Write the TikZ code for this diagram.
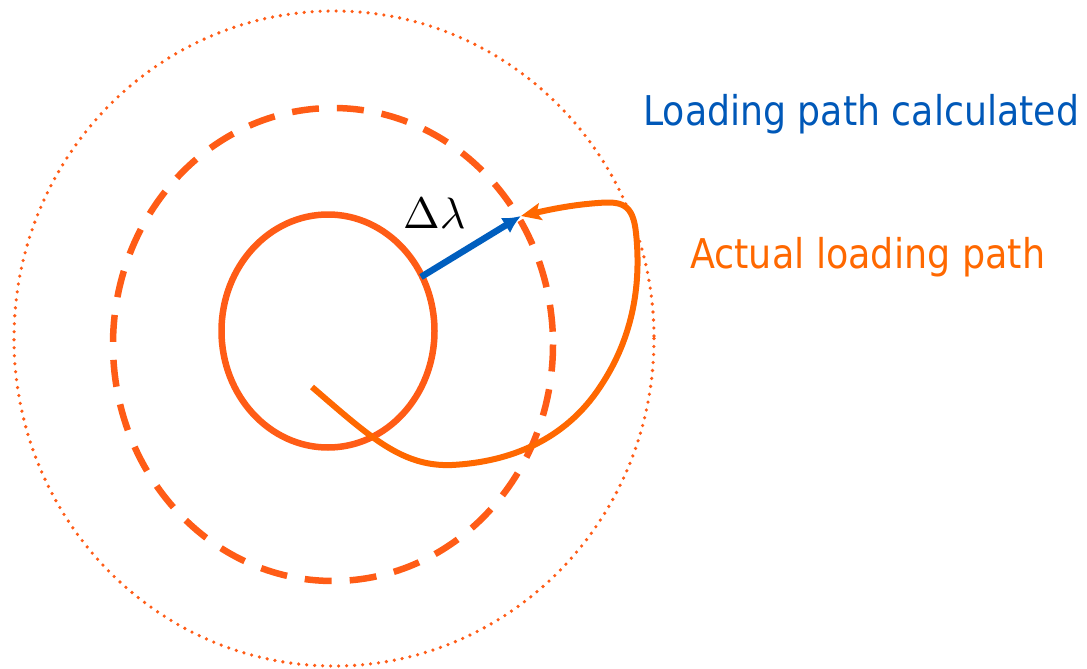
\documentclass[tikz,border=0pt]{standalone}
\usepackage{fontspec}
\newfontfamily\labelfont{DejaVu Sans}
\usetikzlibrary{arrows.meta}
\definecolor{circorange}{RGB}{255,92,22}
\definecolor{pathorange}{RGB}{255,104,0}
\definecolor{arrowblue}{RGB}{0,94,190}
\definecolor{textblue}{RGB}{0,88,184}
\tikzset{
  ring/.style={draw=circorange, line width=6.5pt},
  dashring/.style={draw=circorange, line width=6.5pt, dash pattern=on 27pt off 18pt},
  dotring/.style={draw=circorange, line width=3.6pt, line cap=round, dash pattern=on 0pt off 8pt},
  actualpath/.style={draw=pathorange, line width=6pt, -{Stealth[length=20pt,width=17pt,inset=4pt]}},
  deltaarrow/.style={draw=arrowblue, line width=6.5pt, -{Latex[length=18pt,width=18pt]}},
  lbl/.style={inner sep=0pt, anchor=base west},
}
\begin{document}
\begin{tikzpicture}[x=1pt,y=-1pt]
\useasboundingbox (0,0) rectangle (1087,669);
% circles
\draw[dotring] (334,338.5) ellipse [x radius=320, y radius=327.5];
\draw[dashring] (333,344.5) ellipse [x radius=220, y radius=236.5];
\draw[ring] (328,331) ellipse [x radius=106.5, y radius=116.5];
% key points
\coordinate (dlstart) at (421,277);
\coordinate (dlend) at (521,216);
\coordinate (pstart) at (312,387);
% actual loading path
\draw[actualpath] (pstart) .. controls (370,437) and (402,467) .. (452,465)
  .. controls (510,462) and (565,440) .. (600,387)
  .. controls (635,335) and (641,280) .. (636,233)
  .. controls (633,204) and (622,201) .. (598,203)
  .. controls (570,205) and (548,210) .. (dlend);
% delta lambda arrow
\draw[deltaarrow] (dlstart) -- (dlend);
% labels
\node[lbl] (dl) at (403,228) {\scalebox{4.4}{$\Delta\lambda$}};
\node[lbl, text=textblue] (calc) at (643,125) {\scalebox{0.885}[1]{\labelfont\fontsize{41}{48}\selectfont Loading path calculated}};
\node[lbl, text=pathorange] (act) at (690,268) {\scalebox{0.89}[1]{\labelfont\fontsize{41}{48}\selectfont Actual loading path}};
\end{tikzpicture}
\end{document}
